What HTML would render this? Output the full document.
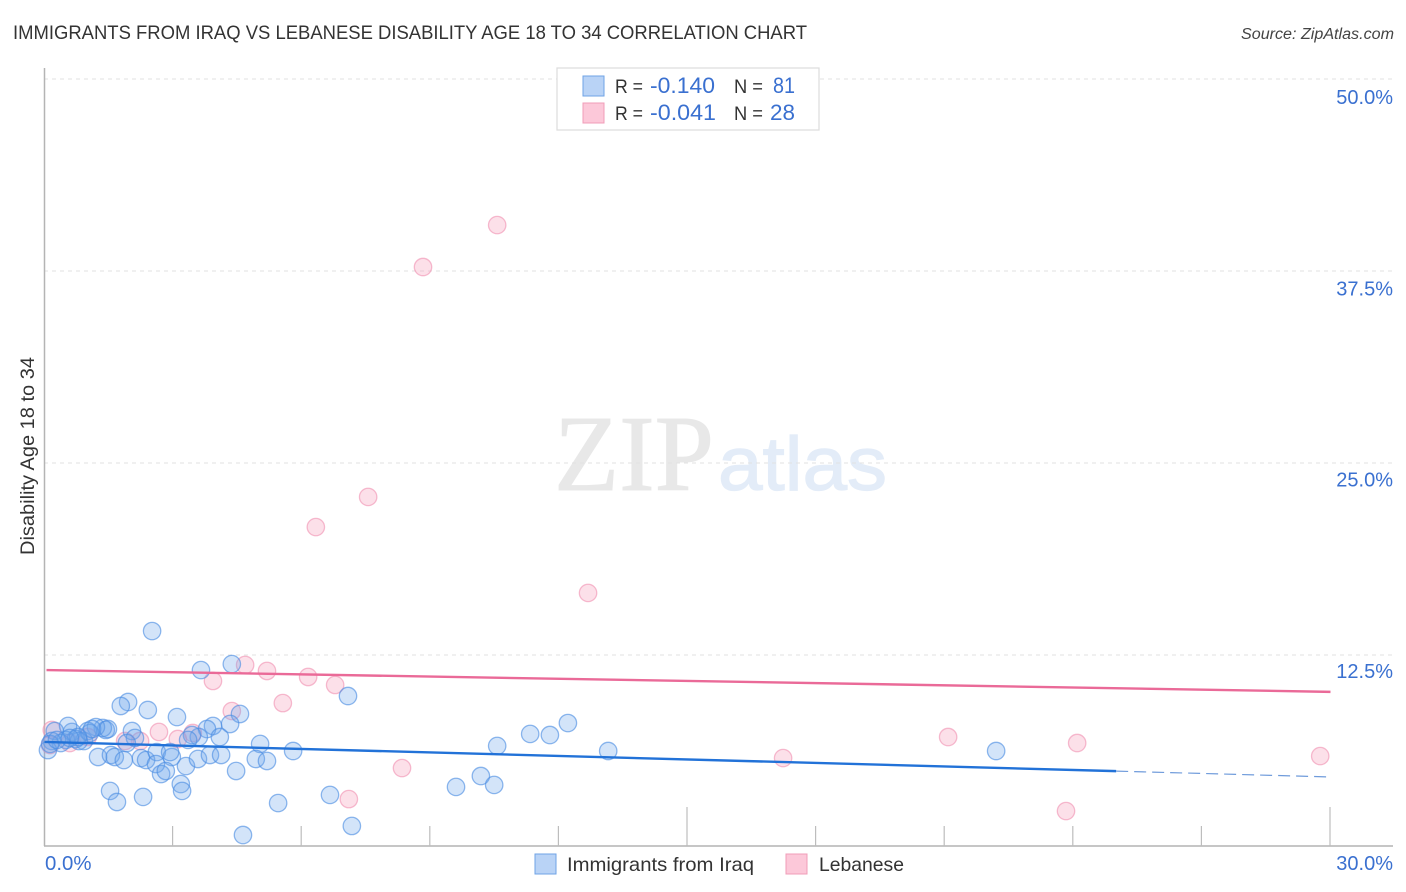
<!DOCTYPE html>
<html lang="en">
<head>
<meta charset="utf-8">
<title>Immigrants from Iraq vs Lebanese Disability Age 18 to 34 Correlation Chart</title>
<style>
html,body{margin:0;padding:0;background:#fff;}
svg{display:block;}
text{font-family:"Liberation Sans",sans-serif;}
</style>
</head>
<body>
<svg id="chart" width="1406" height="892" viewBox="0 0 1406 892" xmlns="http://www.w3.org/2000/svg">
  <rect x="0" y="0" width="1406" height="892" fill="#ffffff"/>
  <text x="13" y="39" font-size="19" fill="#333" textLength="794" lengthAdjust="spacingAndGlyphs">IMMIGRANTS FROM IRAQ VS LEBANESE DISABILITY AGE 18 TO 34 CORRELATION CHART</text>
  <text x="1241" y="39" font-size="15.5" font-style="italic" fill="#444" textLength="153" lengthAdjust="spacingAndGlyphs">Source: ZipAtlas.com</text>
  <g id="watermark">
    <text x="554" y="490" style="font-family:'Liberation Serif',serif" font-size="108" fill="#e8e8e8" stroke="#e8e8e8" stroke-width="1" textLength="160" lengthAdjust="spacingAndGlyphs">ZIP</text>
    <text x="718" y="490" font-size="76" fill="#e3ecf8" stroke="#e3ecf8" stroke-width="1.2" textLength="169" lengthAdjust="spacingAndGlyphs">atlas</text>
  </g>
  <g id="grid"></g>
  <g id="axes"></g>
  <g id="pink-points"></g>
  <g id="blue-points"></g>
  <g id="trends"></g>
  <text transform="translate(34,456) rotate(-90)" font-size="19.5" fill="#333" text-anchor="middle" textLength="198" lengthAdjust="spacingAndGlyphs">Disability Age 18 to 34</text>
  <g>
    <rect x="557" y="68" width="262" height="62" fill="#fff" stroke="#dcdcdc" stroke-width="1.2"/>
    <rect x="583" y="76" width="21" height="20" fill="#b9d3f6" stroke="#6fa3e6" stroke-width="1"/>
    <rect x="583" y="103" width="21" height="20" fill="#fcc8d9" stroke="#f09db8" stroke-width="1"/>
    <text x="615" y="93" font-size="19.5" fill="#333" textLength="28" lengthAdjust="spacingAndGlyphs">R =</text>
    <text x="650" y="93" font-size="22" fill="#3a70d0" textLength="65" lengthAdjust="spacingAndGlyphs">-0.140</text>
    <text x="734" y="93" font-size="19.5" fill="#333" textLength="29" lengthAdjust="spacingAndGlyphs">N =</text>
    <text x="773" y="93" font-size="22" fill="#3a70d0" textLength="22" lengthAdjust="spacingAndGlyphs">81</text>
    <text x="615" y="120" font-size="19.5" fill="#333" textLength="28" lengthAdjust="spacingAndGlyphs">R =</text>
    <text x="650" y="120" font-size="22" fill="#3a70d0" textLength="66" lengthAdjust="spacingAndGlyphs">-0.041</text>
    <text x="734" y="120" font-size="19.5" fill="#333" textLength="29" lengthAdjust="spacingAndGlyphs">N =</text>
    <text x="770" y="120" font-size="22" fill="#3a70d0" textLength="25" lengthAdjust="spacingAndGlyphs">28</text>
  </g>
  <g>
    <rect x="535" y="854" width="21" height="20" fill="#b9d3f6" stroke="#6fa3e6" stroke-width="1"/>
    <text x="567" y="871" font-size="19.5" fill="#333" textLength="187" lengthAdjust="spacingAndGlyphs">Immigrants from Iraq</text>
    <rect x="786" y="854" width="21" height="20" fill="#fcc8d9" stroke="#f09db8" stroke-width="1"/>
    <text x="819" y="871" font-size="19.5" fill="#333" textLength="85" lengthAdjust="spacingAndGlyphs">Lebanese</text>
  </g>
</svg>
<script>
const yTicks = [12.5, 25, 37.5, 50];
const yTickLabels = ["12.5%", "25.0%", "37.5%", "50.0%"];
const xTicks = [3, 6, 9, 12, 15, 18, 21, 24, 27, 30];
const xMajorTicks = [15, 30];
const xEndLabels = ["0.0%", "30.0%"];

const iraqX = [2.51,3.65,4.37,7.08,1.95,1.78,2.41,3.09,4.56,4.33,3.93,3.79,12.21,11.33,11.79,10.56,13.15,22.2,5.80,5.03,4.09,3.60,3.44,3.35,2.04,2.11,1.92,1.43,1.36,1.20,1.01,0.64,0.55,0.24,0.92,0.73,0.50,0.38,0.17,0.08,0.13,0.29,1.25,1.55,1.64,1.85,2.25,2.37,2.62,2.60,2.97,2.93,2.72,2.83,3.30,3.58,3.86,4.12,4.93,5.19,4.47,3.18,3.21,1.53,1.69,2.30,5.45,6.66,7.17,4.63,9.60,10.18,10.49,1.06,0.80,1.11,0.78,0.59,1.48];
const iraqY = [14.06,11.52,11.91,9.83,9.44,9.18,8.92,8.46,8.66,8.01,7.88,7.68,8.07,7.36,7.29,6.58,6.25,6.25,6.25,6.71,7.16,7.16,7.29,6.97,7.55,7.10,6.77,7.62,7.75,7.81,7.55,7.49,7.88,7.55,6.90,7.03,6.97,6.77,6.90,6.31,6.71,6.97,5.86,5.99,5.86,5.66,5.79,5.66,6.18,5.40,5.86,6.18,4.75,4.95,5.27,5.73,5.99,5.99,5.73,5.60,4.95,4.10,3.65,3.65,2.93,3.26,2.86,3.39,1.37,0.78,3.91,4.62,4.04,7.42,6.90,7.68,7.16,7.10,7.68];

const lebaneseX = [10.56,8.83,7.55,6.33,12.68,4.68,5.19,6.15,6.78,3.93,5.56,4.37,2.67,3.46,3.11,2.23,1.88,0.17,0.59,1.01,8.34,7.10,17.23,21.08,24.09,29.76,23.83,0.13];
const lebaneseY = [40.49,37.76,22.79,20.83,16.54,11.85,11.46,11.07,10.55,10.81,9.37,8.85,7.49,7.42,7.03,6.90,6.90,7.62,6.77,7.16,5.14,3.12,5.79,7.16,6.77,5.92,2.34,6.64];

const iraqTrendStart = 6.84;
const iraqTrendEnd = 4.56;
const iraqSolidUntil = 25;
const lebaneseTrendStart = 11.52;
const lebaneseTrendEnd = 10.1;

const NS = "http://www.w3.org/2000/svg";
function xScale(v){ return 44.5 + v * (1330.5 - 44.5) / 30; }
function yScale(v){ return 847 - v * (847 - 79) / 50; }
function make(tag, attrs, parent){
  const el = document.createElementNS(NS, tag);
  for (const k in attrs) el.setAttribute(k, attrs[k]);
  parent.appendChild(el);
  return el;
}

const grid = document.getElementById("grid");
const axes = document.getElementById("axes");

yTicks.forEach(function(t, i){
  const line = make("line", {x1:44, x2:1393, y1:yScale(t), y2:yScale(t), stroke:"#e2e2e2", "stroke-width":1, "stroke-dasharray":"4 4"}, grid);
  
  
  const label = make("text", {x:1393, y:yScale(t) + 25 - (50 - t) * 0.053, "font-size":20, fill:"#3a70d0", "text-anchor":"end"}, axes);
  
  
  label.textContent = yTickLabels[i];
});

const yAxis = make("line", {x1:44.5, x2:44.5, y1:68, y2:846, stroke:"#b4b4b4", "stroke-width":1.5}, axes);


const xAxis = make("line", {x1:44, x2:1393, y1:846, y2:846, stroke:"#b4b4b4", "stroke-width":1.5}, axes);



xTicks.forEach(function(t){
  const top = xMajorTicks.indexOf(t) >= 0 ? 807 : 826;
  const tick = make("line", {x1:xScale(t) - 0.5, x2:xScale(t) - 0.5, y1:top, y2:846, stroke:"#bdbdbd", "stroke-width":1.2}, axes);
  
  
});

const xLabelLeft = make("text", {x:45, y:870, "font-size":20.4, fill:"#3a70d0"}, axes);


xLabelLeft.textContent = xEndLabels[0];
const xLabelRight = make("text", {x:1393, y:870, "font-size":20, fill:"#3a70d0", "text-anchor":"end"}, axes);


xLabelRight.textContent = xEndLabels[1];

const pinkGroup = document.getElementById("pink-points");
lebaneseX.forEach(function(v, i){
  const c = make("circle", {cx:xScale(v), cy:yScale(lebaneseY[i]), r:8.7, fill:"#f6a8c2", "fill-opacity":0.36, stroke:"#f08fb0", "stroke-opacity":0.6, "stroke-width":1.3}, pinkGroup);
  
  
});

const blueGroup = document.getElementById("blue-points");
iraqX.forEach(function(v, i){
  const c = make("circle", {cx:xScale(v), cy:yScale(iraqY[i]), r:8.7, fill:"#6ea6ea", "fill-opacity":0.3, stroke:"#4a8de2", "stroke-opacity":0.62, "stroke-width":1.3}, blueGroup);
  
  
});

const trends = document.getElementById("trends");
function iraqTrend(x){ return iraqTrendStart + (iraqTrendEnd - iraqTrendStart) * x / 30; }
const blueSolid = make("line", {x1:xScale(0), y1:yScale(iraqTrend(0)), x2:xScale(iraqSolidUntil), y2:yScale(iraqTrend(iraqSolidUntil)), stroke:"#2272d8", "stroke-width":2.4}, trends);


const blueDash = make("line", {x1:xScale(iraqSolidUntil), y1:yScale(iraqTrend(iraqSolidUntil)), x2:xScale(30), y2:yScale(iraqTrend(30)), stroke:"#6f9bdb", "stroke-width":1.2, "stroke-dasharray":"12 6"}, trends);


const pinkLine = make("line", {x1:xScale(0) + 2, y1:yScale(lebaneseTrendStart), x2:xScale(30), y2:yScale(lebaneseTrendEnd), stroke:"#ea6a98", "stroke-width":2.4}, trends);


</script>
</body>
</html>
